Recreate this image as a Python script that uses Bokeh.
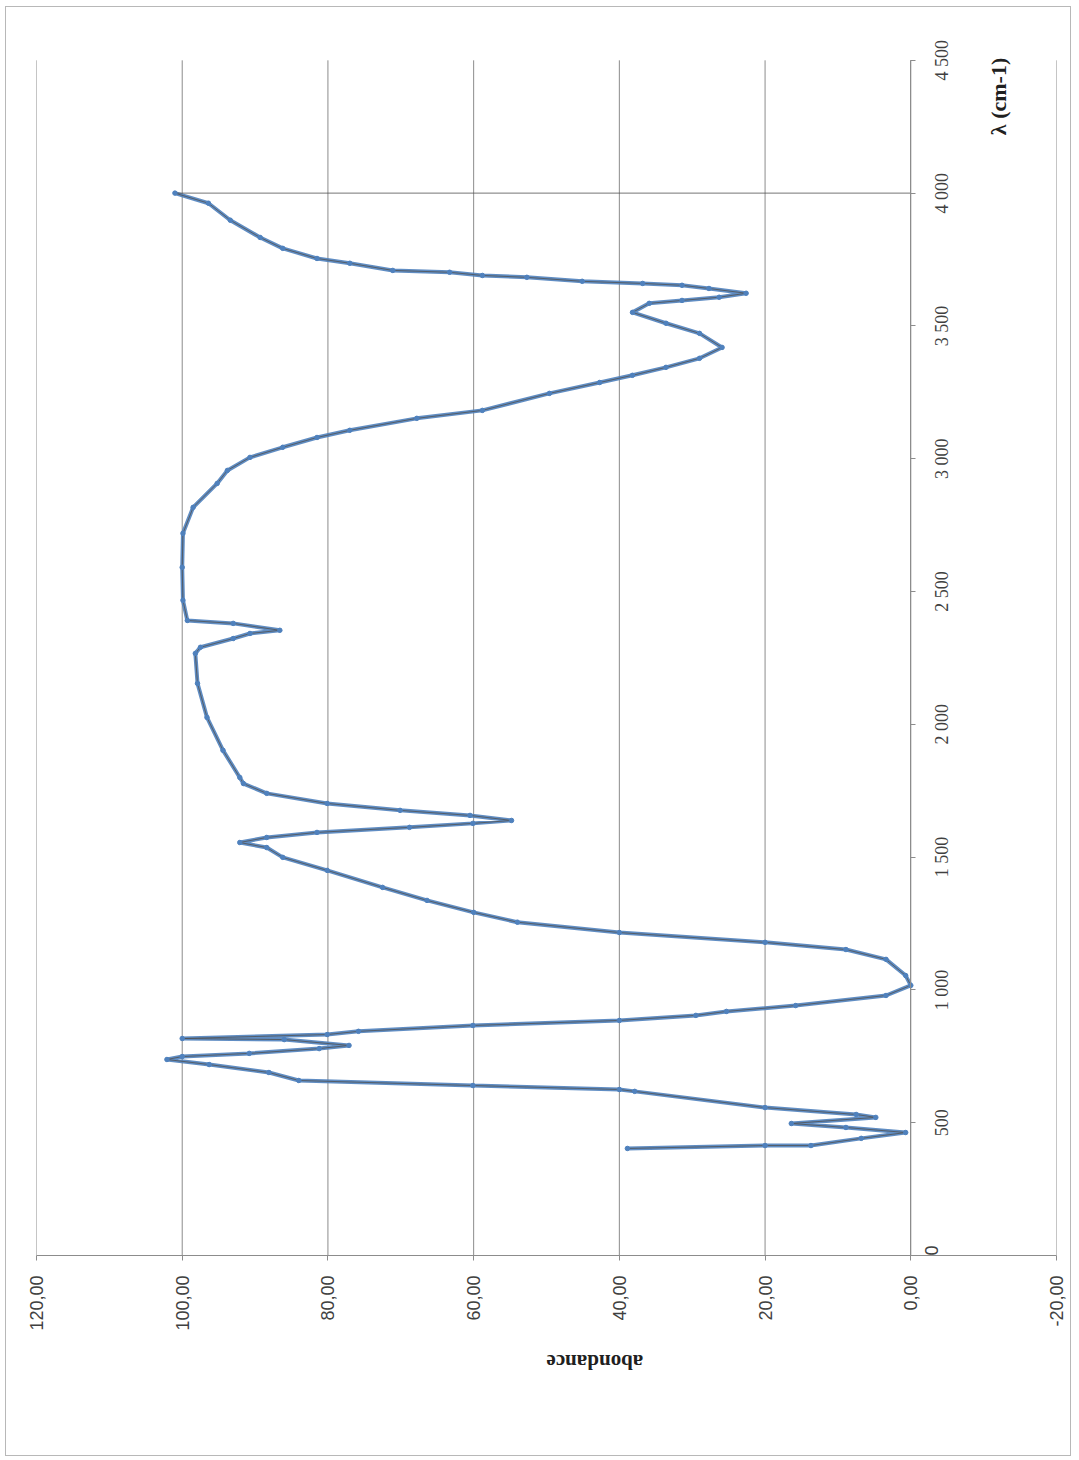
import math
from bokeh.plotting import figure
from bokeh.models import LinearAxis, FixedTicker, Label, LabelSet, Range1d, ColumnDataSource
from bokeh.embed import file_html
from bokeh.resources import INLINE

# --- data (wavenumber in cm-1, abondance in %) ---
wavenumber = [4000, 4000, 3962, 3898, 3833, 3792, 3754, 3736, 3709, 3702, 3690, 3683,
              3668, 3660, 3653, 3641, 3623, 3608, 3596, 3585, 3551, 3510, 3472, 3419,
              3378, 3344, 3314, 3287, 3246, 3182, 3152, 3107, 3080, 3043, 3005, 2956,
              2907, 2817, 2719, 2591, 2467, 2391, 2380, 2354, 2342, 2323, 2290, 2267,
              2154, 2026, 1902, 1800, 1777, 1740, 1702, 1676, 1657, 1638, 1627, 1612,
              1593, 1574, 1555, 1536, 1499, 1450, 1386, 1337, 1292, 1255, 1216, 1179,
              1152, 1115, 1054, 1017, 979, 941, 919, 904, 885, 866, 844, 832, 817, 813,
              791, 779, 761, 749, 738, 719, 689, 659, 640, 625, 618, 557, 531, 520, 497,
              482, 463, 441, 414, 414, 403]
abondance = [0.0, 101.0, 96.4, 93.4, 89.3, 86.2, 81.5, 77.0, 71.1, 63.3, 58.8, 52.7,
             45.1, 36.8, 31.4, 27.7, 22.6, 26.3, 31.4, 35.9, 38.2, 33.6, 29.0, 25.9,
             29.0, 33.6, 38.2, 42.7, 49.6, 58.8, 67.8, 77.0, 81.5, 86.2, 90.7, 93.8,
             95.2, 98.5, 99.9, 100.0, 99.9, 99.3, 93.0, 86.6, 90.7, 93.0, 97.5, 98.2,
             97.9, 96.6, 94.4, 92.1, 91.6, 88.4, 80.1, 70.1, 60.5, 54.8, 60.1, 68.8,
             81.5, 88.4, 92.1, 88.4, 86.2, 80.1, 72.5, 66.4, 60.0, 54.0, 40.0, 20.0,
             8.9, 3.4, 0.7, 0.0, 3.4, 15.8, 25.3, 29.5, 40.0, 60.1, 75.8, 80.1, 100.0, 86.0,
             77.1, 81.2, 90.8, 100.0, 102.1, 96.3, 88.1, 84.0, 60.1, 40.0, 37.9, 20.0, 7.5, 4.8, 16.4,
             8.9, 0.7, 6.8, 13.7, 20.0, 38.9]

abond_ticks = [120, 100, 80, 60, 40, 20, 0, -20]
abond_labels = ["120,00", "100,00", "80,00", "60,00", "40,00", "20,00", "0,00", "-20,00"]
wn_ticks = [0, 500, 1000, 1500, 2000, 2500, 3000, 3500, 4000, 4500]
wn_labels = ["0", "500", "1 000", "1 500", "2 000", "2 500", "3 000", "3 500", "4 000", "4 500"]

wn_min, wn_max = wn_ticks[0], wn_ticks[-1]
axis_cross = 0  # wavenumber axis crosses abondance = 0

src_all = ColumnDataSource(dict(a=abondance, w=wavenumber))
src_trail = ColumnDataSource(dict(a=abondance[1:], w=wavenumber[1:]))
src_grid = ColumnDataSource(dict(x=abond_ticks, y0=[wn_min] * len(abond_ticks),
                                 y1=[wn_max] * len(abond_ticks)))
# labels above the bottom edge are drawn centred on their ticks; the "0" one by the axis
src_wn = ColumnDataSource(dict(x=[axis_cross] * (len(wn_ticks) - 1), y=wn_ticks[1:],
                               t=wn_labels[1:]))

p = figure(frame_width=1020, frame_height=1222,
           x_range=Range1d(120, -20), y_range=Range1d(0, 4601),
           output_backend="svg", toolbar_location=None,
           x_axis_location="below", y_axis_location=None,
           min_border_left=30, min_border_top=26, min_border_right=14,
           min_border_bottom=200)
p.styles = {"border": "1px solid #b8b8b8", "margin-left": "5px", "margin-top": "6px"}
p.outline_line_color = None
p.background_fill_color = "white"
p.border_fill_color = "white"

# grid lines (vertical, stopping at top of wavenumber scale)
p.xgrid.grid_line_color = None
p.ygrid.grid_line_color = None
p.segment(x0="x", y0="y0", x1="x", y1="y1", source=src_grid,
          line_color="#8c8c8c", line_width=1)

# bottom axis (abondance)
xa = p.xaxis[0]
xa.ticker = FixedTicker(ticks=abond_ticks)
xa.major_label_overrides = {t: l for t, l in zip(abond_ticks, abond_labels)}
xa.major_label_orientation = math.pi / 2
xa.major_label_text_font = "Liberation Sans"
xa.major_label_text_font_size = "18px"
xa.major_label_text_color = "#404040"
xa.major_label_standoff = 15
xa.axis_line_color = "#8c8c8c"
xa.major_tick_line_color = "#8c8c8c"
xa.major_tick_out = 5
xa.major_tick_in = 0
xa.minor_tick_line_color = None
xa.axis_label = "abondance"
xa.axis_label_text_font = "Liberation Serif"
xa.axis_label_text_font_style = "bold"
xa.axis_label_text_font_size = "21px"
xa.axis_label_text_color = "#202020"
xa.axis_label_standoff = 28
xa.axis_label_orientation = math.pi

# wavenumber axis crossing at abondance = 0 (line + ticks, "0" label)
ya = LinearAxis(fixed_location=axis_cross, bounds=(wn_min, wn_max))
ya.ticker = FixedTicker(ticks=wn_ticks)
ya.major_label_overrides = {t: (l if t == wn_min else "") for t, l in zip(wn_ticks, wn_labels)}
ya.major_label_orientation = math.pi / 2
ya.major_label_text_font = "Liberation Sans"
ya.major_label_text_font_size = "18px"
ya.major_label_text_color = "#404040"
ya.major_label_standoff = 16
ya.axis_line_color = "#8c8c8c"
ya.major_tick_line_color = "#8c8c8c"
ya.major_tick_out = 5
ya.major_tick_in = 0
ya.minor_tick_line_color = None
p.add_layout(ya, "right")

# wavenumber tick labels, centred on their ticks
p.add_layout(LabelSet(x="x", y="y", text="t", source=src_wn, x_offset=31,
                      angle=math.pi / 2, text_align="center", text_baseline="middle",
                      text_font="Liberation Sans", text_font_size="18px",
                      text_color="#404040"))

# series
p.line("a", "w", source=src_trail, line_color="#4f81bd", line_width=4, line_alpha=0.9)
p.line("a", "w", source=src_all, line_color="#505050", line_width=0.8)
p.scatter("a", "w", source=src_trail, marker="circle", size=4.5,
          fill_color="#4f81bd", line_color="#4f81bd")

# axis title for wavenumber
p.add_layout(Label(x=-12, y=4364, text="λ (cm-1)", angle=math.pi / 2,
                   text_align="center", text_baseline="middle",
                   text_font="Liberation Serif", text_font_style="bold",
                   text_font_size="22px", text_color="#202020"))

open("out.html", "w").write(file_html(p, INLINE))
